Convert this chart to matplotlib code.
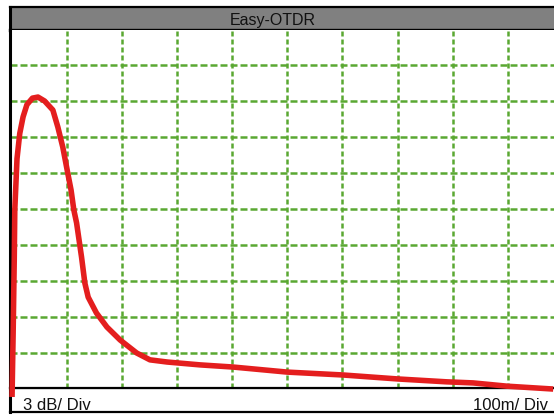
import matplotlib.pyplot as plt

# OTDR trace, in screen divisions (x: 100 m/div, y: 3 dB/div)
dist_div = [0.01, 0.03, 0.05, 0.06, 0.10, 0.15, 0.21, 0.28, 0.38, 0.48, 0.60,
            0.75, 0.84, 0.93, 1.02, 1.08, 1.13, 1.18, 1.27, 1.33, 1.39, 1.54,
            1.73, 1.97, 2.27, 2.51, 2.82, 3.42, 4.02, 5.00, 6.01, 7.00, 7.89,
            8.37, 8.98, 9.82]
level_div = [-0.21, 1.56, 3.59, 4.98, 6.40, 7.10, 7.56, 7.90, 8.08, 8.11, 8.00,
             7.75, 7.28, 6.72, 6.00, 5.53, 4.98, 4.62, 3.67, 2.95, 2.56, 2.12,
             1.73, 1.37, 1.01, 0.82, 0.76, 0.68, 0.62, 0.48, 0.40, 0.29, 0.21,
             0.18, 0.09, 0.01]
grid_divs = list(range(1, 10))

title = 'Easy-OTDR'
y_scale = '3 dB/ Div'
x_scale = '100m/ Div'

W, H = 554, 416
GREEN = '#5aa832'
RED = '#e41e1e'
FONT = ['Liberation Sans', 'DejaVu Sans']


def box(left, top, right, bottom):
    # pixel rectangle -> figure fraction [l, b, w, h]
    return [left / W, 1 - bottom / H, (right - left) / W, (bottom - top) / H]


fig = plt.figure(figsize=(W / 100, H / 100), dpi=100)

# title bar
tax = fig.add_axes(box(9.5, 7, 570, 30))
tax.set_facecolor('#808080')
tax.set_xticks([])
tax.set_yticks([])
tax.spines['right'].set_visible(False)
tax.spines['top'].set_linewidth(1.6)
tax.spines['bottom'].set_linewidth(2.4)
tax.spines['left'].set_linewidth(2.2)

# scale strip under the screen
sax = fig.add_axes(box(10, 388, 554, 412))
sax.set_xticks([])
sax.set_yticks([])
sax.spines['right'].set_visible(False)
sax.spines['bottom'].set_linewidth(1.6)
sax.spines['left'].set_linewidth(2.2)

# trace screen
ax = fig.add_axes(box(10, 30, 554, 388))
ax.set_xlim(-0.027, 9.835)
ax.set_ylim(0.039, 9.97)
ax.set_xticks(grid_divs)
ax.set_yticks(grid_divs)
ax.tick_params(length=0, labelbottom=False, labelleft=False)
ax.xaxis.grid(True, color=GREEN, lw=1.8, linestyle=(0, (2.0, 1.2)))
ax.yaxis.grid(True, color=GREEN, lw=1.8, linestyle=(0, (2.8, 1.2)))
ax.spines['right'].set_visible(False)
ax.spines['top'].set_visible(False)
ax.spines['left'].set_linewidth(2.2)
ax.spines['bottom'].set_linewidth(1.6)

ax.plot(dist_div, level_div, color=RED, lw=4.0, clip_on=False, zorder=4,
        solid_joinstyle='round', solid_capstyle='butt')

fig.text(273 / W, 1 - 25 / H, title, ha='center', va='baseline',
         fontsize=11.5, family=FONT, color='#111111')
fig.text(23 / W, 1 - 410 / H, y_scale, ha='left', va='baseline',
         fontsize=12, family=FONT, color='#111111')
fig.text(548 / W, 1 - 410 / H, x_scale, ha='right', va='baseline',
         fontsize=12, family=FONT, color='#111111')

fig.savefig('out.png', dpi=100)
